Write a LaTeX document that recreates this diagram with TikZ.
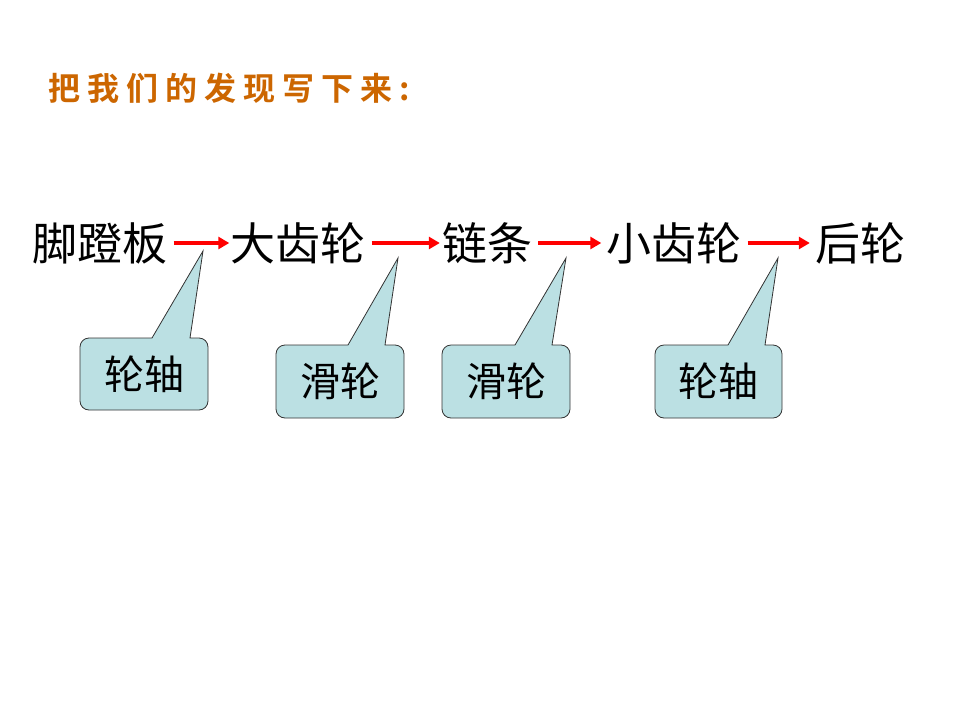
\documentclass[tikz,border=0pt]{standalone}
\usepackage{fontspec}
\setmainfont{Noto Sans CJK SC}
\newfontfamily\cjkbold[LetterSpace=22]{Noto Sans CJK SC Bold}
\definecolor{titleorange}{RGB}{204,102,0}
\definecolor{calloutfill}{RGB}{187,224,227}
\usetikzlibrary{arrows.meta}
\tikzset{
  part/.style={inner sep=0pt, font=\fontsize{45}{47}\selectfont},
  link/.style={red, line width=3.5pt, -{Triangle[length=11pt,width=12pt]}},
  bubble/.style={fill=calloutfill, draw=black!80, line width=.8pt},
  bubbletext/.style={font=\fontsize{40}{42}\selectfont}
}
% callout: left, top, right, bottom, base-left, base-right, tip x, tip y, name
\newcommand{\callout}[9]{%
  \coordinate (#9tip) at (#7,#8);
  \draw[bubble] (#5,#2) -- (#9tip) -- (#6,#2)
    [rounded corners=9pt] -- (#3,#2) -- (#3,#4) -- (#1,#4) -- (#1,#2)
    [sharp corners] -- (#5,#2) -- cycle;
}
\begin{document}
\begin{tikzpicture}[x=1pt,y=-1pt]
  \useasboundingbox (0,0) rectangle (960,720);

  \node[anchor=west, titleorange, font=\cjkbold\fontsize{32}{34}\selectfont] (title) at (45,88) {把我们的发现写下来:};

  \node[part] (pedal) at (100,243) {脚蹬板};
  \node[part] (biggear) at (298,243) {大齿轮};
  \node[part] (chain) at (487,243) {链条};
  \node[part] (smallgear) at (674,243) {小齿轮};
  \node[part] (rearwheel) at (860,243) {后轮};

  \draw[link] ([xshift=6pt]pedal.east) -- ([xshift=-1pt]biggear.west);
  \draw[link] ([xshift=6pt]biggear.east) -- ([xshift=-2pt]chain.west);
  \draw[link] ([xshift=6pt]chain.east) -- ([xshift=-5pt]smallgear.west);
  \draw[link] ([xshift=6pt]smallgear.east) -- ([xshift=-5pt]rearwheel.west);

  \callout{80}{338}{208}{410}{152}{190}{203}{251}{c1}
  \callout{276}{345}{404}{418}{348}{385}{398}{258}{c2}
  \callout{442}{345}{570}{418}{515}{552}{566}{258}{c3}
  \callout{655}{345}{782}{418}{728}{765}{778}{258}{c4}

  \node[bubbletext] (axle1) at (144,374) {轮轴};
  \node[bubbletext] (pulley1) at (340,381) {滑轮};
  \node[bubbletext] (pulley2) at (506,381) {滑轮};
  \node[bubbletext] (axle2) at (718,381) {轮轴};
\end{tikzpicture}
\end{document}
